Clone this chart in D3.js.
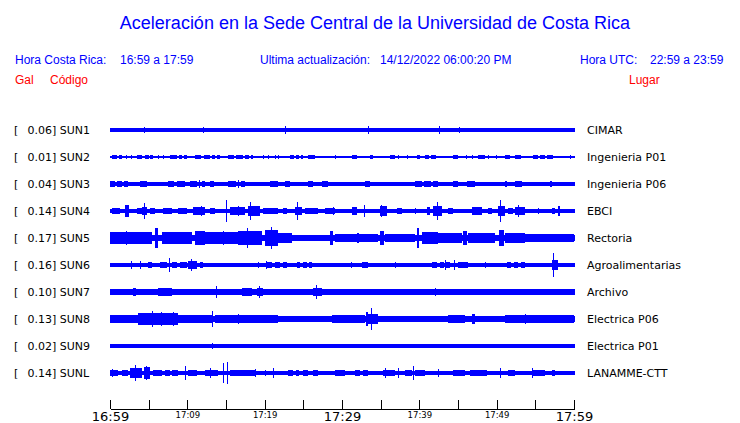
<!DOCTYPE html>
<html><head><meta charset="utf-8">
<script src="https://cdn.jsdelivr.net/npm/d3@7"></script>
<style>body{margin:0;background:#fff;}svg{display:block;}</style>
</head><body>
<svg id="chart" width="740" height="423"></svg>
<script>
// ---------- DATA ----------
const title = "Aceleración en la Sede Central de la Universidad de Costa Rica";
const codes = ["SUN1","SUN2","SUN3","SUN4","SUN5","SUN6","SUN7","SUN8","SUN9","SUNL"];
const peaks = [0.06,0.01,0.04,0.14,0.17,0.16,0.10,0.13,0.02,0.14];
const places = ["CIMAR","Ingenieria P01","Ingenieria P06","EBCI","Rectoria","Agroalimentarias","Archivo","Electrica P06","Electrica P01","LANAMME-CTT"];
// background (quiet) half-amplitude of each trace, relative units
const baseAmp = [0.12,0.04,0.13,0.15,0.23,0.12,0.19,0.21,0.12,0.14];
// bursts: [start minute, end minute, half-amplitude]  (minutes after 16:59)
const sun1Bursts = [[0,1.5,0.14],[4.4,4.5,0.23],[10.6,10.7,0.16],[12.0,12.1,0.19],[16.7,16.8,0.16],[22.6,22.7,0.33],[33.4,33.5,0.27],[39.4,39.5,0.16],[42.5,42.6,0.27],[45.1,45.2,0.23],[56.9,57.0,0.16]];
const sun2Bursts = [[0.22,0.9,0.12],[1.1,1.51,0.12],[2.1,2.25,0.12],[2.75,2.9,0.12],[3.45,4.2,0.12],[4.5,5.0,0.12],[5.2,5.6,0.12],[6.2,6.35,0.12],[6.85,7.0,0.12],[7.76,8.6,0.12],[8.9,9.3,0.12],[9.6,9.91,0.12],[10.99,11.8,0.12],[12.1,12.9,0.12],[13.2,13.6,0.12],[13.9,14.22,0.12],[15.3,16.0,0.12],[16.3,17.2,0.12],[17.5,18.0,0.12],[18.2,18.53,0.12],[19.8,19.95,0.12],[20.45,20.6,0.12],[21.3,21.45,0.12],[21.75,21.9,0.12],[23.27,23.8,0.12],[24.1,24.5,0.12],[24.7,25.0,0.12],[25.6,26.5,0.12],[29.05,29.2,0.12],[31.25,31.9,0.12],[33.6,34.0,0.12],[36.2,36.85,0.12],[37.25,37.4,0.12],[38.35,38.5,0.12],[39.65,40.1,0.12],[40.7,41.2,0.12],[41.5,42.2,0.12],[44.4,45.0,0.13],[46.05,46.2,0.12],[46.75,46.9,0.12],[47.6,48.5,0.12],[48.85,49.0,0.12],[49.95,50.1,0.12],[51.1,51.7,0.12],[52.4,53.2,0.12],[54.7,55.3,0.12],[55.6,56.2,0.12],[56.5,57.3,0.12],[59.45,59.6,0.12]];
const sun3Bursts = [[0.0,0.6,0.2],[0.9,1.5,0.2],[1.8,2.37,0.2],[3.88,4.74,0.2],[5.39,5.82,0.18],[6.6,6.75,0.18],[7.54,8.3,0.2],[8.6,9.7,0.2],[10.34,11.2,0.2],[11.5,11.7,0.27],[11.9,12.28,0.2],[12.93,13.5,0.2],[13.8,14.22,0.18],[15.3,16.3,0.22],[16.5,16.7,0.3],[16.9,17.45,0.22],[18.05,18.15,0.18],[19.1,19.25,0.18],[20.69,21.76,0.2],[22.63,23.27,0.2],[24.14,24.57,0.18],[25.64,26.29,0.2],[27.37,28.23,0.2],[29.0,29.15,0.18],[30.1,30.25,0.18],[31.4,31.55,0.18],[32.97,33.62,0.2],[34.65,34.8,0.18],[35.99,36.42,0.18],[37.93,38.36,0.18],[39.44,40.3,0.2],[40.6,41.5,0.2],[41.8,42.45,0.2],[44.39,45.04,0.2],[46.12,47.19,0.2],[48.06,48.49,0.18],[49.78,50.43,0.18],[51.1,51.4,0.2],[52.37,53.23,0.22],[54.05,54.2,0.18],[54.9,55.05,0.18],[56.85,57.2,0.2],[58.35,58.5,0.18]];
const sun4Bursts = [[0.22,1.29,0.2],[2.0,2.4,0.41],[3.45,4.09,0.2],[4.09,4.74,0.3],[4.4,4.5,0.56],[5.17,5.82,0.2],[6.9,7.97,0.2],[8.84,9.91,0.22],[10.77,12.28,0.3],[11.8,11.9,0.35],[12.93,13.58,0.2],[14.95,15.05,0.82],[15.5,17.45,0.3],[16.55,16.65,0.4],[17.89,19.4,0.35],[18.05,18.15,0.64],[19.83,21.76,0.2],[22.41,22.84,0.25],[23.92,24.78,0.3],[24.17,24.27,0.68],[25.21,26.94,0.2],[27.8,29.09,0.22],[28.85,28.95,0.3],[31.25,31.9,0.28],[32.83,32.93,0.45],[34.91,35.77,0.35],[35.08,35.18,0.48],[37.06,37.71,0.2],[39.4,39.5,0.2],[40.95,41.38,0.3],[41.81,42.88,0.35],[42.27,42.37,0.63],[43.75,44.39,0.2],[46.76,48.06,0.28],[48.92,49.35,0.2],[50.21,51.07,0.35],[50.46,50.56,0.8],[51.5,52.15,0.25],[52.37,53.66,0.3],[52.75,52.85,0.46],[55.33,55.43,0.2],[57.11,57.54,0.2],[57.9,58.2,0.35]];
const sun5Bursts = [[0.0,5.39,0.42],[2.1,2.2,0.5],[5.82,6.25,0.74],[6.68,10.56,0.45],[10.99,12.28,0.5],[12.28,16.59,0.45],[14.6,14.7,0.55],[16.59,19.61,0.5],[17.75,17.85,0.77],[20.04,21.76,0.6],[20.85,20.95,0.85],[21.76,23.49,0.4],[28.4,28.9,0.55],[29.09,34.7,0.3],[32.0,32.2,0.35],[34.9,35.4,0.54],[35.56,39.44,0.3],[39.7,40.0,0.77],[40.3,42.45,0.42],[42.45,45.47,0.35],[45.7,46.1,0.55],[46.33,49.78,0.35],[50.3,51.0,0.6],[51.07,53.66,0.4],[53.66,60,0.32]];
const sun6Bursts = [[0.0,0.65,0.18],[2.67,2.77,0.28],[3.91,4.01,0.28],[4.96,5.39,0.2],[6.46,7.33,0.22],[7.62,7.72,0.49],[7.97,8.62,0.2],[9.05,9.91,0.22],[10.13,11.2,0.3],[10.42,10.52,0.46],[11.64,12.07,0.2],[13.36,13.79,0.17],[15.95,16.5,0.18],[16.9,17.2,0.18],[17.5,17.89,0.18],[19.13,19.23,0.25],[20.21,20.31,0.3],[20.26,21.0,0.2],[21.4,22.0,0.2],[22.4,22.84,0.2],[24.14,24.6,0.2],[25.0,25.5,0.2],[25.7,26.07,0.2],[27.15,27.6,0.18],[28.0,28.6,0.18],[29.0,29.52,0.18],[31.2,31.3,0.2],[32.54,33.4,0.25],[33.83,34.2,0.18],[34.6,35.13,0.18],[36.8,36.9,0.2],[39.6,39.7,0.18],[41.59,42.3,0.25],[42.7,43.2,0.25],[43.26,43.36,0.35],[43.5,44.0,0.25],[44.43,44.53,0.38],[45.04,46.33,0.2],[48.44,48.54,0.2],[51.29,51.9,0.2],[52.3,52.8,0.2],[53.2,53.66,0.2],[54.7,54.8,0.17],[57.11,57.97,0.35],[57.27,57.37,0.9],[58.4,58.8,0.17],[59.2,59.6,0.17]];
const sun7Bursts = [[0.0,1.5,0.25],[1.9,2.8,0.25],[3.0,3.4,0.3],[3.6,4.96,0.25],[6.25,7.97,0.28],[8.4,10.13,0.25],[10.77,13.58,0.25],[13.65,13.75,0.46],[14.44,16.16,0.23],[17.02,18.32,0.28],[18.96,19.83,0.3],[19.22,19.32,0.42],[20.9,23.49,0.23],[23.92,25.21,0.25],[26.29,27.37,0.3],[26.63,26.73,0.54],[27.8,29.52,0.25],[29.95,32.11,0.23],[32.97,35.99,0.25],[36.85,38.14,0.23],[39.0,41.59,0.23],[41.97,42.07,0.3],[42.45,46.76,0.23],[47.62,51.07,0.25],[51.94,54.52,0.23],[55.38,60,0.25]];
const sun8Bursts = [[0.0,3.66,0.33],[3.66,8.84,0.42],[5.47,5.57,0.59],[6.63,6.73,0.5],[8.14,8.24,0.5],[8.84,13.15,0.3],[13.18,13.28,0.59],[13.58,16.59,0.28],[16.54,16.64,0.4],[16.59,21.76,0.26],[21.76,28.66,0.24],[28.66,32.97,0.3],[33.1,33.3,0.55],[33.4,34.26,0.4],[33.74,33.84,0.78],[34.26,34.7,0.35],[34.7,42.45,0.24],[43.75,45.9,0.27],[46.76,47.19,0.35],[47.2,51.07,0.24],[51.07,55.38,0.28],[53.61,53.71,0.4],[55.38,60,0.27]];
const sun9Bursts = [[4.55,4.65,0.18],[13.18,13.28,0.19],[34.44,34.54,0.18]];
const sunLBursts = [[0.0,1.08,0.25],[0.25,0.35,0.3],[1.51,2.37,0.2],[2.59,4.09,0.35],[3.27,3.37,0.56],[4.44,5.17,0.45],[4.65,4.75,0.54],[5.6,6.68,0.2],[7.11,7.7,0.2],[8.0,8.84,0.2],[9.65,9.75,0.49],[10.13,11.2,0.22],[12.28,14.01,0.25],[12.88,12.98,0.35],[14.6,14.7,0.73],[15.12,15.22,0.8],[15.52,17.45,0.22],[17.45,18.75,0.25],[18.78,18.88,0.3],[19.99,20.09,0.2],[21.07,21.17,0.35],[23.06,23.6,0.2],[24.0,24.5,0.2],[25.0,25.6,0.2],[26.2,26.94,0.2],[29.09,30.38,0.2],[31.68,32.3,0.19],[32.7,33.4,0.19],[35.34,36.85,0.25],[35.51,35.61,0.35],[37.23,37.33,0.35],[38.14,39.0,0.22],[39.17,39.27,0.51],[39.44,40.73,0.22],[42.4,42.5,0.3],[44.39,45.9,0.2],[46.55,48.7,0.22],[50.38,50.48,0.35],[51.5,52.37,0.2],[54.52,56.25,0.25],[54.56,54.66,0.4],[57.11,57.54,0.2]];
const bursts = [sun1Bursts,sun2Bursts,sun3Bursts,sun4Bursts,sun5Bursts,sun6Bursts,sun7Bursts,sun8Bursts,sun9Bursts,sunLBursts];
const tickMinutes = [0,5,10,15,20,25,30,35,40,45,50,55,60];
const tickLabels = {0:"16:59",10:"17:09",20:"17:19",30:"17:29",40:"17:39",50:"17:49",60:"17:59"};
const bigTicks = [0,30,60];

// ---------- DRAW ----------
const svg = d3.select("#chart");
const blue = "#0000ff", red = "#ff0000";
const sans = "'Liberation Sans', Arial, Helvetica, sans-serif";
const dv = "'DejaVu Sans', sans-serif";

svg.append("text").attr("x",375).attr("y",29).attr("text-anchor","middle")
  .attr("font-family",sans).attr("font-size",18).attr("fill",blue).text(title);

const hdr = [
  [15,"Hora Costa Rica:",blue,64],[120,"16:59 a 17:59",blue,64],
  [260,"Ultima actualización:",blue,64],[380,"14/12/2022 06:00:20 PM",blue,64],
  [580,"Hora UTC:",blue,64],[650,"22:59 a 23:59",blue,64],
  [15,"Gal",red,84],[50,"Código",red,84],[629,"Lugar",red,84]
];
svg.selectAll("text.hdr").data(hdr).join("text").attr("class","hdr")
  .attr("x",d=>d[0]).attr("y",d=>d[3]).attr("font-family",sans).attr("font-size",12)
  .attr("fill",d=>d[2]).text(d=>d[1]);

const x = d3.scaleLinear().domain([0,60]).range([110,574]);
const y = d3.scalePoint().domain(codes).range([130,373]);
const amp = d3.scaleLinear().domain([0,1]).range([0,13.5]);

const rows = svg.selectAll("g.row").data(codes).join("g").attr("class","row")
  .attr("transform",d=>`translate(0,${y(d)})`);

rows.append("text").attr("x",14).attr("dy","0.36em").attr("font-family",dv).attr("font-size",11)
  .attr("fill","#000").text("[");
rows.append("text").attr("x",27.5).attr("dy","0.36em").attr("font-family",dv).attr("font-size",11)
  .attr("fill","#000").text((d,i)=>peaks[i].toFixed(2)+"] "+d);
rows.append("text").attr("x",587).attr("dy","0.36em").attr("font-family",dv).attr("font-size",11)
  .attr("fill","#000").text((d,i)=>places[i]);

rows.append("rect").attr("x",x(0)).attr("width",x(60)-x(0)+1)
  .attr("y",(d,i)=>-amp(baseAmp[i])).attr("height",(d,i)=>2*amp(baseAmp[i]))
  .attr("fill",blue).attr("shape-rendering","crispEdges");

rows.each(function(d,i){
  d3.select(this).selectAll("rect.b").data(bursts[i]).join("rect").attr("class","b")
    .attr("x",b=>x(b[0]))
    .attr("width",b=>Math.max(1,x(b[1])-x(b[0])))
    .attr("y",b=>-amp(b[2])).attr("height",b=>2*amp(b[2]))
    .attr("fill",blue).attr("shape-rendering","crispEdges");
});

// time axis
const axis = d3.axisBottom(x).tickValues(tickMinutes).tickSizeInner(-9).tickSizeOuter(0)
  .tickPadding(3).tickFormat(m=>tickLabels[m]||"");
const ax = svg.append("g").attr("transform","translate(0,409)").call(axis);
ax.select(".domain").attr("stroke","#000").attr("shape-rendering","crispEdges");
ax.selectAll(".tick line").attr("stroke","#000").attr("shape-rendering","crispEdges");
ax.selectAll(".tick text").attr("fill","#000").attr("font-family",dv)
  .attr("font-size",m=>bigTicks.includes(m)?13:8.5)
  .attr("dy",m=>bigTicks.includes(m)?"0.71em":"0.75em");
</script>
</body></html>
